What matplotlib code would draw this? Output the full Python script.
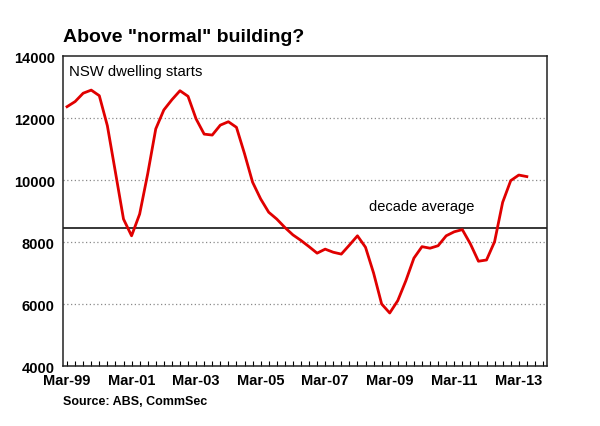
import numpy as np
import matplotlib
matplotlib.use("Agg")
import matplotlib.pyplot as plt
from matplotlib.ticker import MultipleLocator

# NSW dwelling starts, quarterly Mar-99 .. Jun-13
starts = [12365, 12530, 12800, 12900, 12720, 11750, 10250, 8740, 8200, 8900,
          10200, 11650, 12260, 12590, 12880, 12700, 11970, 11480, 11450, 11770,
          11880, 11700, 10850, 9930, 9390, 8960, 8740, 8470, 8230, 8050,
          7850, 7640, 7770, 7670, 7610, 7900, 8200, 7830, 7000, 6000,
          5710, 6110, 6750, 7480, 7850, 7800, 7880, 8200, 8330, 8400,
          7940, 7380, 7420, 8010, 9280, 9980, 10160, 10110]
decade_avg = 8450
n_quarters = 60   # axis runs Mar-99 .. Dec-13
tick_labels = ["Mar-99", "Mar-01", "Mar-03", "Mar-05", "Mar-07", "Mar-09", "Mar-11", "Mar-13"]
y_ticks = [4000, 6000, 8000, 10000, 12000, 14000]

plt.rcParams['font.family'] = ['Liberation Sans', 'DejaVu Sans']

fig = plt.figure(figsize=(6.0, 4.27), dpi=100)
ax = fig.add_axes([0.105, 0.1405, 0.8067, 0.726])

x = np.arange(len(starts))
ax.plot(x, starts, color='#e00000', linewidth=2.0, solid_joinstyle='round', zorder=3)
ax.axhline(decade_avg, color='black', linewidth=1.1, zorder=2)

ax.set_ylim(4000, 14000)
ax.set_xlim(-0.5, n_quarters - 0.5)
ax.set_yticks(y_ticks)
ax.set_yticklabels([str(v) for v in y_ticks], fontsize=10.5, fontweight='bold')
for v in y_ticks[1:-1]:
    ax.axhline(v, color='#8a8a8a', linewidth=0.9, linestyle=(0, (1, 2)), zorder=1)

ax.set_xticks(np.arange(0, n_quarters, 8))
ax.set_xticklabels(tick_labels, fontsize=10.5, fontweight='bold')
ax.xaxis.set_minor_locator(MultipleLocator(1))
ax.tick_params(axis='x', which='both', direction='in', length=3.5, width=0.8, pad=5)
ax.tick_params(axis='y', length=0, pad=6)

for s in ax.spines.values():
    s.set_linewidth(1.1)
    s.set_color('#222222')

ax.text(0.012, 0.975, "NSW dwelling starts", transform=ax.transAxes,
        fontsize=10.7, va='top', ha='left')
ax.text(44, 9150, "decade average", fontsize=10.5, ha='center', va='center')

fig.text(0.105, 0.913, 'Above "normal" building?', fontsize=14, fontweight='bold',
         ha='left', va='center')
fig.text(0.105, 0.058, "Source: ABS, CommSec", fontsize=9, fontweight='bold',
         ha='left', va='center')

fig.savefig("out.png", dpi=100)
